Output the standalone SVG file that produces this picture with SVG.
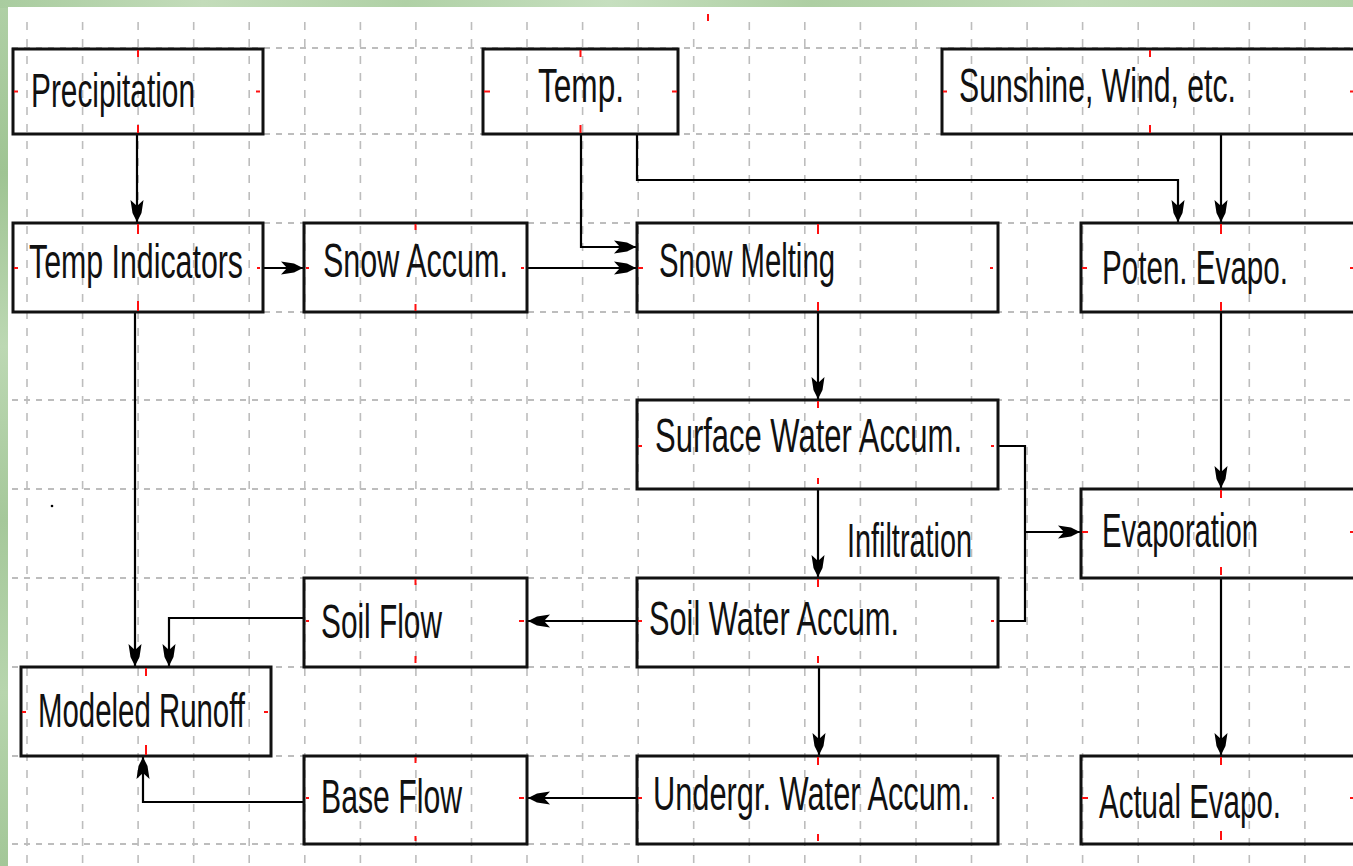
<svg xmlns="http://www.w3.org/2000/svg" width="1353" height="866" viewBox="0 0 1353 866">
<defs>
<linearGradient id="gTop" x1="0" y1="0" x2="1" y2="0">
<stop offset="0" stop-color="#a9cc9f"/><stop offset="0.15" stop-color="#c3dcba"/><stop offset="0.3" stop-color="#b0d1a6"/><stop offset="0.45" stop-color="#c6dfbf"/><stop offset="0.6" stop-color="#aecfa3"/><stop offset="0.8" stop-color="#c0dbb7"/><stop offset="1" stop-color="#b3d3a9"/>
</linearGradient>
<linearGradient id="gLeft" x1="0" y1="0" x2="0" y2="1">
<stop offset="0" stop-color="#b0d0a6"/><stop offset="0.2" stop-color="#9fc493"/><stop offset="0.4" stop-color="#bcd8b3"/><stop offset="0.6" stop-color="#a5c89a"/><stop offset="0.8" stop-color="#b7d5ad"/><stop offset="1" stop-color="#a3c798"/>
</linearGradient>
<marker id="ah" viewBox="-24 -7 25 14" refX="0" refY="0" markerWidth="25" markerHeight="14" markerUnits="userSpaceOnUse" orient="auto">
<path d="M0,0 L-9,-4.5 L-22,-6.5 L-16,0 L-22,6.5 L-9,4.5 Z" fill="#000"/>
</marker>
<style>
.box{fill:none;stroke:#111;stroke-width:3}
.tick{stroke:#ff1010;stroke-width:2;fill:none}
.lbl{font-family:"Liberation Sans",Arial,sans-serif;font-size:48px;fill:#111}
.gv{stroke:#bdbdbd;stroke-width:1.6;stroke-dasharray:8 9;fill:none}
.gh{stroke:#bdbdbd;stroke-width:2.2;stroke-dasharray:6 6;fill:none}
.con{stroke:#000;stroke-width:2.2;fill:none}
.arr{marker-end:url(#ah)}
</style>
</defs>

<g id="background">
<rect x="0" y="0" width="1353" height="866" fill="url(#gLeft)"/>
<rect x="0" y="0" width="1353" height="8" fill="url(#gTop)"/>
<rect x="8" y="7" width="1345" height="859" fill="#ffffff"/>
</g>

<g id="grid">
<path class="gv" d="M27,22V866M82.6,22V866M138.1,22V866M193.7,22V866M249.2,22V866M304.8,22V866M360.4,22V866M415.9,22V866M471.5,22V866M527,22V866M582.6,22V866M638.2,22V866M693.7,22V866M749.3,22V866M804.8,22V866M860.4,22V866M916,22V866M971.5,22V866M1027.1,22V866M1082.6,22V866M1138.2,22V866M1193.8,22V866M1249.3,22V866M1304.9,22V866"/>
<path class="gh" d="M12,48H1353M12,134H1353M12,223H1353M12,312H1353M12,400H1353M12,489H1353M12,578H1353M12,667H1353M12,756H1353M12,844H1353"/>
<path d="M708,14V21" class="tick"/>
<circle cx="52" cy="506" r="1.3" fill="#000"/>
</g>

<g id="connectors">
<path class="con arr" d="M137,134V222"/>
<path class="con arr" d="M263,268H303"/>
<path class="con arr" d="M581,134V247H636"/>
<path class="con arr" d="M527,268H636"/>
<path class="con arr" d="M637,134V180H1178V222"/>
<path class="con arr" d="M1221,134V222"/>
<path class="con arr" d="M818,312V399"/>
<path class="con arr" d="M818,489V577"/>
<path class="con" d="M998,446H1025V621H998"/>
<path class="con arr" d="M1025,532H1080"/>
<path class="con arr" d="M1221,312V488"/>
<path class="con arr" d="M1221,578V755"/>
<path class="con arr" d="M637,621H528"/>
<path class="con arr" d="M819,667V755"/>
<path class="con arr" d="M637,798H528"/>
<path class="con arr" d="M135,312V666"/>
<path class="con arr" d="M304,618H169V666"/>
<path class="con arr" d="M304,802H143V757"/>
</g>

<g id="precipitation">
<rect class="box" x="13" y="49" width="250" height="85"/>
<path class="tick" d="M138,50V57M138,125V133M14,91.5H18M256,91.5H260"/>
<text class="lbl" x="31" y="107" textLength="164" lengthAdjust="spacingAndGlyphs">Precipitation</text>
</g>

<g id="temp">
<rect class="box" x="483" y="49" width="195" height="85"/>
<path class="tick" d="M580.5,50V57M580.5,125V133M484,91.5H490M672,91.5H677"/>
<text class="lbl" x="538" y="102" textLength="86" lengthAdjust="spacingAndGlyphs">Temp.</text>
</g>

<g id="sunshine">
<rect class="box" x="942" y="49" width="415" height="85"/>
<path class="tick" d="M1150,50V57M1150,125V133M943,91.5H947M1350,91.5H1353"/>
<text class="lbl" x="959" y="102" textLength="277" lengthAdjust="spacingAndGlyphs">Sunshine, Wind, etc.</text>
</g>

<g id="temp-indicators">
<rect class="box" x="13" y="223" width="250" height="89"/>
<path class="tick" d="M138,224V234M138,301V311M14,268H18M257,268H260"/>
<text class="lbl" x="29" y="278" textLength="214" lengthAdjust="spacingAndGlyphs">Temp Indicators</text>
</g>

<g id="snow-accum">
<rect class="box" x="304" y="223" width="223" height="89"/>
<path class="tick" d="M415.5,224V230M415.5,304V311M306,268H309M521,268H524"/>
<text class="lbl" x="323" y="277" textLength="185" lengthAdjust="spacingAndGlyphs">Snow Accum.</text>
</g>

<g id="snow-melting">
<rect class="box" x="637" y="223" width="361" height="89"/>
<path class="tick" d="M818,224V234M818,302V311M638,268H643M990,268H993"/>
<text class="lbl" x="659" y="277" textLength="176" lengthAdjust="spacingAndGlyphs">Snow Melting</text>
</g>

<g id="poten-evapo">
<rect class="box" x="1081" y="223" width="276" height="89"/>
<path class="tick" d="M1221,224V234M1221,302V311M1082,268H1087M1350,268H1353"/>
<text class="lbl" x="1102" y="284" textLength="186" lengthAdjust="spacingAndGlyphs">Poten. Evapo.</text>
</g>

<g id="surface-water">
<rect class="box" x="637" y="400" width="361" height="89"/>
<path class="tick" d="M818,401V408M818,478V484M638,446H642M991,446H994"/>
<text class="lbl" x="655" y="452" textLength="307" lengthAdjust="spacingAndGlyphs">Surface Water Accum.</text>
</g>

<g id="infiltration-label">
<text class="lbl" x="847" y="557" textLength="125" lengthAdjust="spacingAndGlyphs">Infiltration</text>
</g>

<g id="evaporation">
<rect class="box" x="1081" y="489" width="276" height="89"/>
<path class="tick" d="M1221,490V498M1221,567V575M1082,532H1088M1350,532H1353"/>
<text class="lbl" x="1102" y="547" textLength="156" lengthAdjust="spacingAndGlyphs">Evaporation</text>
</g>

<g id="soil-flow">
<rect class="box" x="304" y="578" width="223" height="89"/>
<path class="tick" d="M415.5,579V585M415.5,656V663M306,621H309M519,621H524"/>
<text class="lbl" x="321" y="638" textLength="121" lengthAdjust="spacingAndGlyphs">Soil Flow</text>
</g>

<g id="soil-water">
<rect class="box" x="637" y="578" width="361" height="89"/>
<path class="tick" d="M818,579V587M818,656V663M638,621H642M991,621H994"/>
<text class="lbl" x="649" y="635" textLength="250" lengthAdjust="spacingAndGlyphs">Soil Water Accum.</text>
</g>

<g id="modeled-runoff">
<rect class="box" x="21" y="667" width="250" height="89"/>
<path class="tick" d="M146,668V676M146,745V755M22,712H26M264,712H268"/>
<text class="lbl" x="38" y="727" textLength="207" lengthAdjust="spacingAndGlyphs">Modeled Runoff</text>
</g>

<g id="base-flow">
<rect class="box" x="304" y="756" width="223" height="88"/>
<path class="tick" d="M415.5,757V763M415.5,836V841M306,798H309M519,798H524"/>
<text class="lbl" x="321" y="813" textLength="141" lengthAdjust="spacingAndGlyphs">Base Flow</text>
</g>

<g id="undergr-water">
<rect class="box" x="637" y="756" width="361" height="88"/>
<path class="tick" d="M818,757V765M818,834V841M638,798H642M992,798H994"/>
<text class="lbl" x="653" y="810" textLength="317" lengthAdjust="spacingAndGlyphs">Undergr. Water Accum.</text>
</g>

<g id="actual-evapo">
<rect class="box" x="1081" y="756" width="276" height="88"/>
<path class="tick" d="M1221,757V765M1221,831V840M1082,798H1088M1350,798H1353"/>
<text class="lbl" x="1099" y="818" textLength="182" lengthAdjust="spacingAndGlyphs">Actual Evapo.</text>
</g>
</svg>
